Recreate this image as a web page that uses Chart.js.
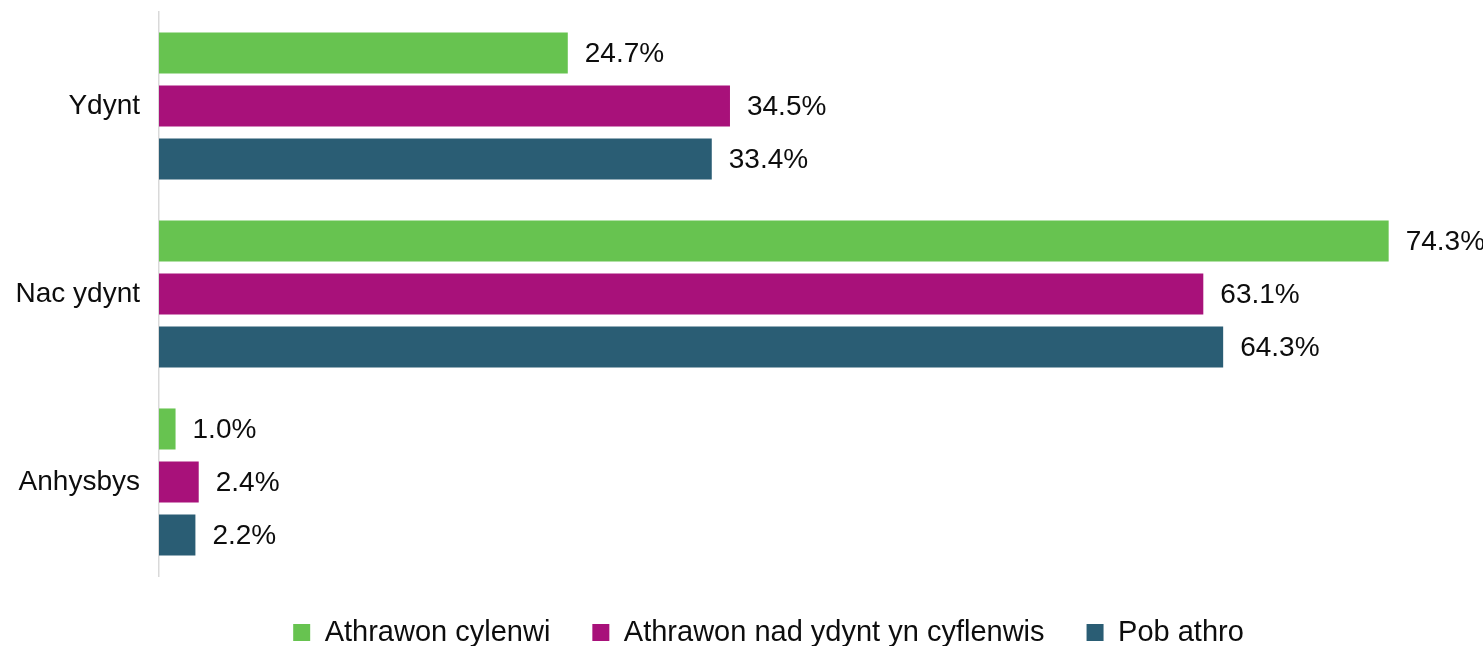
<!DOCTYPE html>
<html>
<head>
<meta charset="utf-8">
<script src="https://cdn.jsdelivr.net/npm/chart.js@4/dist/chart.umd.min.js"></script>
<style>
  html, body { margin: 0; padding: 0; background: #fff; overflow: hidden; }
  #wrap { width: 1483px; height: 657px; position: relative; }
</style>
</head>
<body>
<div id="wrap"><canvas id="chart"></canvas></div>
<script>
const categories = ['Ydynt', 'Nac ydynt', 'Anhysbys'];
const seriesNames = ['Athrawon cylenwi', 'Athrawon nad ydynt yn cyflenwis', 'Pob athro'];
const cylenwi = [24.7, 74.3, 1.0];
const nadCyflenwi = [34.5, 63.1, 2.4];
const pobAthro = [33.4, 64.3, 2.2];
const colors = ['#67C350', '#A8117A', '#2A5D74'];

const FONT = "'Liberation Sans', Arial, sans-serif";

// draws the value at the end of each bar
const valueLabels = {
    id: 'valueLabels',
    afterDatasetsDraw(chart) {
        const ctx = chart.ctx;
        ctx.save();
        ctx.font = '28px ' + FONT;
        ctx.fillStyle = '#0d0d0d';
        ctx.textAlign = 'left';
        ctx.textBaseline = 'middle';
        chart.data.datasets.forEach((ds, i) => {
            chart.getDatasetMeta(i).data.forEach((bar, j) => {
                ctx.fillText(ds.data[j].toFixed(1) + '%', bar.x + 17, bar.y + 1);
            });
        });
        ctx.restore();
    }
};

const ctx = document.getElementById('chart').getContext('2d');
const chart = new Chart(ctx, {
    type: 'bar',
    data: {
        labels: categories,
        datasets: [cylenwi, nadCyflenwi, pobAthro].map((d, i) => ({
            label: seriesNames[i],
            data: d,
            backgroundColor: colors[i],
            borderWidth: 0,
            categoryPercentage: 0.846,
            barPercentage: 0.774
        }))
    },
    options: {
        indexAxis: 'y',
        responsive: true,
        maintainAspectRatio: false,
        animation: false,
        // negative right padding pushes the legend centre to the right, like the original
        layout: { padding: { top: 12, right: -54, left: 0, bottom: 0 } },
        scales: {
            x: {
                display: false,
                min: 0,
                max: 80
            },
            y: {
                grid: { display: false, drawTicks: true, tickLength: 19 },
                border: { display: true, color: '#d9d9d9', width: 1.5 },
                ticks: {
                    padding: 0,
                    color: '#0d0d0d',
                    font: { family: FONT, size: 28, lineHeight: 0.8 }
                },
                afterFit(scale) { scale.width = 159; }
            }
        },
        plugins: {
            legend: {
                position: 'bottom',
                labels: {
                    boxWidth: 17,
                    boxHeight: 17,
                    padding: 42,
                    color: '#0d0d0d',
                    font: { family: FONT, size: 29 }
                }
            },
            tooltip: { enabled: false }
        }
    },
    plugins: [valueLabels]
});
</script>
</body>
</html>
